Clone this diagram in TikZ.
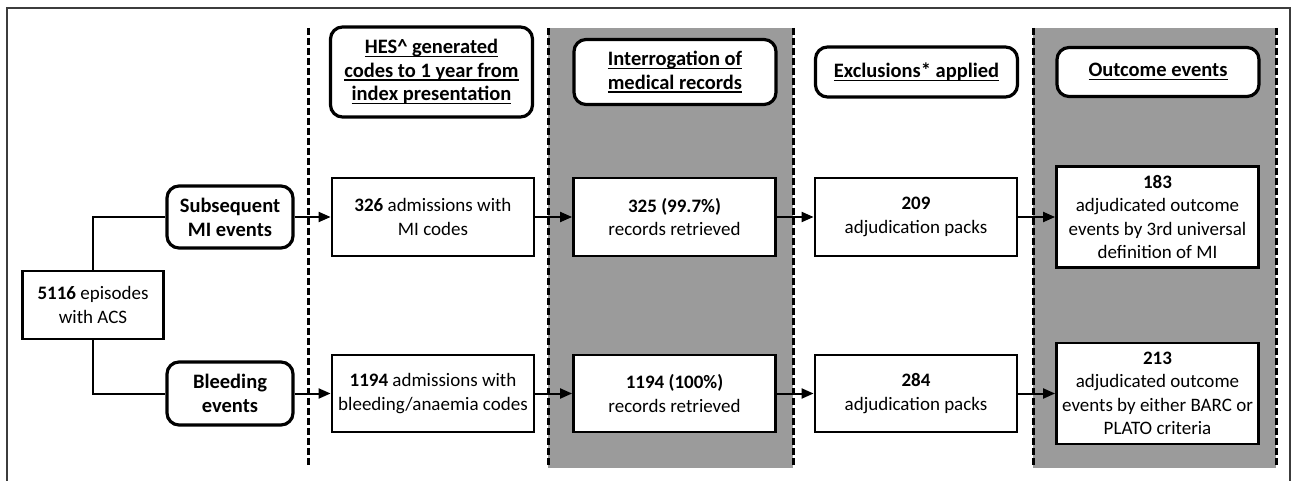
\documentclass[tikz,border=0pt]{standalone}
\usepackage{fontspec}
\setmainfont{Carlito}
\usetikzlibrary{arrows.meta}
\definecolor{bandGray}{RGB}{155, 155, 155}
\definecolor{frameGray}{RGB}{60, 60, 60}
\newcommand{\headline}[1]{\setbox0\hbox{#1}\rlap{\rule[-3.5pt]{\wd0}{1.5pt}}\box0}

\begin{document}
\begin{tikzpicture}[x=1pt, y=-1pt, node distance=241.5pt, >={Triangle[length=12pt, width=10pt]},
    font=\fontsize{19}{23.5}\selectfont,
    headbox/.style={draw, rounded corners=12pt, line width=3.2pt, fill=white, align=center, minimum width=202pt, font=\fontsize{20.5}{23.5}\selectfont\bfseries},
    countbox/.style={draw, line width=2.8pt, fill=white, align=center, minimum width=202pt, minimum height=77pt, inner sep=2pt},
    eventbox/.style={draw, rounded corners=12pt, line width=3.2pt, fill=white, align=center, minimum width=126pt, minimum height=62pt, font=\fontsize{20.5}{24}\selectfont\bfseries},
    divider/.style={line width=3pt, dash pattern=on 7pt off 3pt}]
            \useasboundingbox (0,0) rectangle (1293,481);
            \draw[frameGray, line width=1.6pt] (7,495) -- (7,8) -- (1290,8) -- (1290,495);
            % shaded columns
            \fill[bandGray] (548,28) rectangle (793,468);
            \fill[bandGray] (1033,28) rectangle (1276,468);
            \foreach \xpos in {308, 548, 793, 1033, 1276}
                \draw[divider] (\xpos,28) -- (\xpos,468);
            % column headings
            \node[headbox, minimum height=90pt] (hdrhes) at (431.5,72) {\headline{HES\textasciicircum\ generated}\\\headline{codes to 1 year from}\\\headline{index presentation}};
            \node[headbox, minimum height=65pt, right of=hdrhes, xshift=2pt] (hdrrec) {\headline{Interrogation of}\\\headline{medical records}};
            \node[headbox, minimum height=50pt, right of=hdrrec] (hdrexc) {\headline{Exclusions* applied}};
            \node[headbox, minimum height=49pt, right of=hdrexc] (hdrout) {\headline{Outcome events}};
            % start and branches
            \node[draw, line width=2.8pt, fill=white, align=center, minimum width=141pt, minimum height=68pt] (acs) at (93,305) {\textbf{5116} episodes\\with ACS};
            \node[eventbox] (mi) at (230,217) {Subsequent\\MI events};
            \node[eventbox, minimum height=63pt] (bleed) at (230,393.5) {Bleeding\\events};
            % MI row
            \node[countbox, minimum height=78pt] (mi326) at (433,217) {\textbf{326} admissions with\\MI codes};
            \node[countbox, minimum height=78pt, right of=mi326] (mi325) {\textbf{325 (99.7\%)}\\records retrieved};
            \node[countbox, minimum height=78pt, right of=mi325] (mi209) {\textbf{209}\\adjudication packs};
            \node[countbox, minimum height=101pt, right of=mi209] (mi183) {\textbf{183}\\adjudicated outcome\\events by 3rd universal\\definition of MI};
            % bleeding row
            \node[countbox] (bl1194) at (433,393.5) {\textbf{1194} admissions with\\bleeding/anaemia codes};
            \node[countbox, right of=bl1194] (bl1194r) {\textbf{1194 (100\%)}\\records retrieved};
            \node[countbox, right of=bl1194r] (bl284) {\textbf{284}\\adjudication packs};
            \node[countbox, minimum height=101pt, right of=bl284] (bl213) {\textbf{213}\\adjudicated outcome\\events by either BARC or\\PLATO criteria};
            \draw[line width=2pt] (acs.north) |- (mi.west);
            \draw[line width=2pt] (acs.south) |- (bleed.west);
            \draw[->, line width=2pt] (mi) -- (mi326);
            \draw[->, line width=2pt] (mi326) -- (mi325);
            \draw[->, line width=2pt] (mi325) -- (mi209);
            \draw[->, line width=2pt] (mi209) -- (mi183);
            \draw[->, line width=2pt] (bleed) -- (bl1194);
            \draw[->, line width=2pt] (bl1194) -- (bl1194r);
            \draw[->, line width=2pt] (bl1194r) -- (bl284);
            \draw[->, line width=2pt] (bl284) -- (bl213);
        \end{tikzpicture}
\end{document}
